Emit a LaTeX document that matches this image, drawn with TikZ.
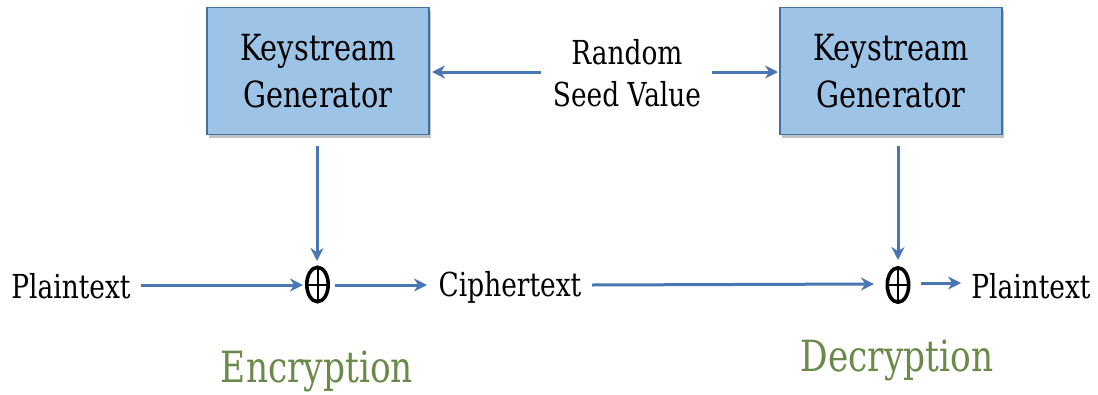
\documentclass[tikz,border=0pt]{standalone}
\usepackage{fontspec}
\setmainfont{DejaVu Serif}[FakeStretch=0.8]
\usetikzlibrary{arrows.meta,shadows}
\definecolor{boxfill}{HTML}{9DC3E6}
\definecolor{boxline}{HTML}{41719C}
\definecolor{arrowc}{HTML}{4A76B4}
\definecolor{greenlab}{HTML}{6B8A4A}
\tikzset{
 gen/.style={draw=boxline,fill=boxfill,line width=1.2pt,minimum width=222pt,minimum height=127pt,align=center,font=\fontsize{36}{47}\selectfont,text=black,inner sep=0pt,drop shadow={shadow xshift=2pt,shadow yshift=-3pt,opacity=.4,fill=black!60}},
 lab/.style={font=\fontsize{33}{42}\selectfont,text=black,inner sep=0pt,align=center},
 rowlab/.style={font=\fontsize{33}{38}\selectfont,text=black,inner sep=0pt},
 titlelab/.style={font=\fontsize{43}{50}\selectfont,text=greenlab,inner sep=0pt},
 xorn/.style={inner sep=0pt,minimum size=26pt},
 arr/.style={draw=arrowc,line width=3pt,-{Stealth[length=13pt,width=13pt]}},
}
\begin{document}
\begin{tikzpicture}[x=1pt,y=-1pt]
\useasboundingbox (0,0) rectangle (1098,394);
\node[gen] (k1) at (318,71) {Keystream\\Generator};
\node[gen] (k2) at (891,71) {Keystream\\Generator};
\node[lab] (seed) at (627,73) {Random\\Seed Value};
\node[rowlab] (p1) at (71,286) {Plaintext};
\node[rowlab] (c) at (510,287) {Ciphertext};
\node[rowlab] (p2) at (1031,286) {Plaintext};
\node[xorn] (x1) at (317.5,284.5) {};
\node[xorn] (x2) at (898,285) {};
\foreach \n in {x1,x2}{
 \draw[black,line width=3.6pt] (\n) ellipse (10.7pt and 17.2pt);
 \draw[black,line width=2pt] ([xshift=-10.7pt]\n.center) -- ([xshift=10.7pt]\n.center);
 \draw[black,line width=2pt] ([yshift=-17.2pt]\n.center) -- ([yshift=17.2pt]\n.center);
}
\node[titlelab] (enc) at (317,371) {Encryption};
\node[titlelab] (dec) at (897,360) {Decryption};
\coordinate (k1b) at (317,146);
\coordinate (k2b) at (898,146);
\coordinate (s1) at (541,72);
\coordinate (s2) at (712,72);
\coordinate (k1r) at (432,72);
\coordinate (k2l) at (778,72);
\coordinate (p1e) at (141,285);
\coordinate (ce) at (592,285);
\coordinate (cs) at (427,285);
\coordinate (p2s) at (961,283);
\coordinate (x1r) at (335,285);
\coordinate (x2r) at (921,283);
\draw[arr] (s1) -- (k1r);
\draw[arr] (s2) -- (k2l);
\draw[arr] (k1b) -- (317,261);
\draw[arr] (k2b) -- (898,260);
\draw[arr] (p1e) -- (303,285);
\draw[arr] (x1r) -- (cs);
\draw[arr] (ce) -- (874,284);
\draw[arr] (x2r) -- (p2s);
\end{tikzpicture}
\end{document}
